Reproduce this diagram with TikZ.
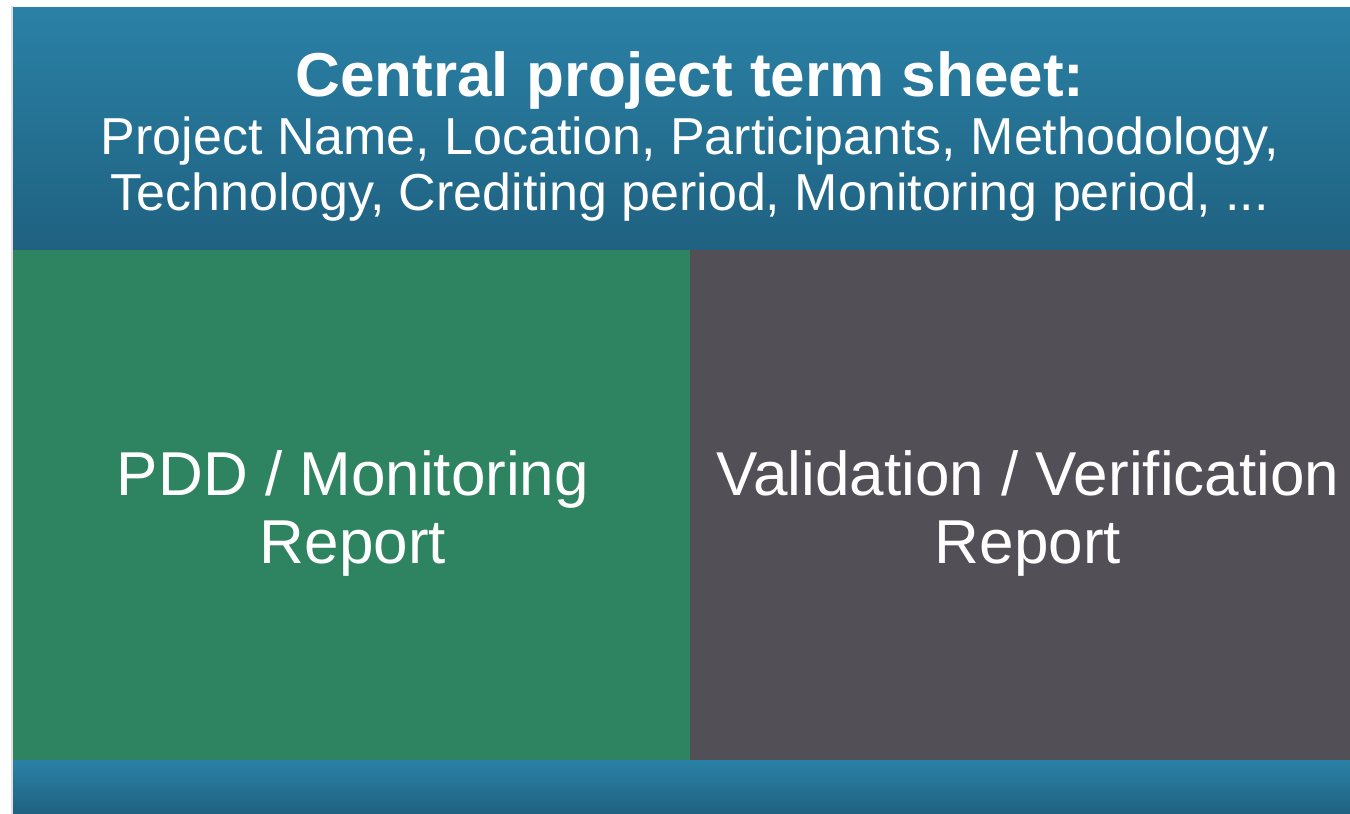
\documentclass[tikz,border=0pt]{standalone}
\usepackage{fontspec}
\setmainfont{Liberation Sans}
\definecolor{bluetop}{HTML}{2A81A6}
\definecolor{bluebot}{HTML}{1F6180}
\definecolor{greenbox}{HTML}{2E8360}
\definecolor{graybox}{HTML}{524F56}
\begin{document}
\begin{tikzpicture}[x=1pt,y=1pt,
  band/.style={top color=bluetop,bottom color=bluebot,draw=none},
  txt/.style={text=white,align=center,inner sep=0pt}]
\useasboundingbox (0,0) rectangle (1350,-814);
\fill[white] (0,0) rectangle (1350,-814);
% shadow on left edge
\fill[black!12] (11,-6) rectangle (14,-814);
\shade[band] (13,-7) rectangle (1350,-250);
\fill[greenbox] (13,-250) rectangle (690,-760);
\fill[graybox] (690,-250) rectangle (1350,-760);
\shade[band] (13,-760) rectangle (1350,-814);
\node[txt,font=\fontsize{62}{68}\selectfont\bfseries,anchor=base] (title) at (690,-96) {Central project term sheet:};
\node[txt,font=\fontsize{52}{56}\selectfont,anchor=base] (sub) at (690,-154) {Project Name, Location, Participants, Methodology,};
\node[txt,font=\fontsize{52}{56}\selectfont,anchor=base] (sub2) at (690,-210) {Technology, Crediting period, Monitoring period, ...};
\node[txt,font=\fontsize{62}{68}\selectfont,anchor=base] (pdd1) at (353,-495) {PDD / Monitoring};
\node[txt,font=\fontsize{62}{68}\selectfont,anchor=base] (pdd2) at (353,-563) {Report};
\node[txt,font=\fontsize{62}{68}\selectfont,anchor=base] (val1) at (1028,-495) {Validation / Verification};
\node[txt,font=\fontsize{62}{68}\selectfont,anchor=base] (val2) at (1028,-563) {Report};
\end{tikzpicture}
\end{document}
